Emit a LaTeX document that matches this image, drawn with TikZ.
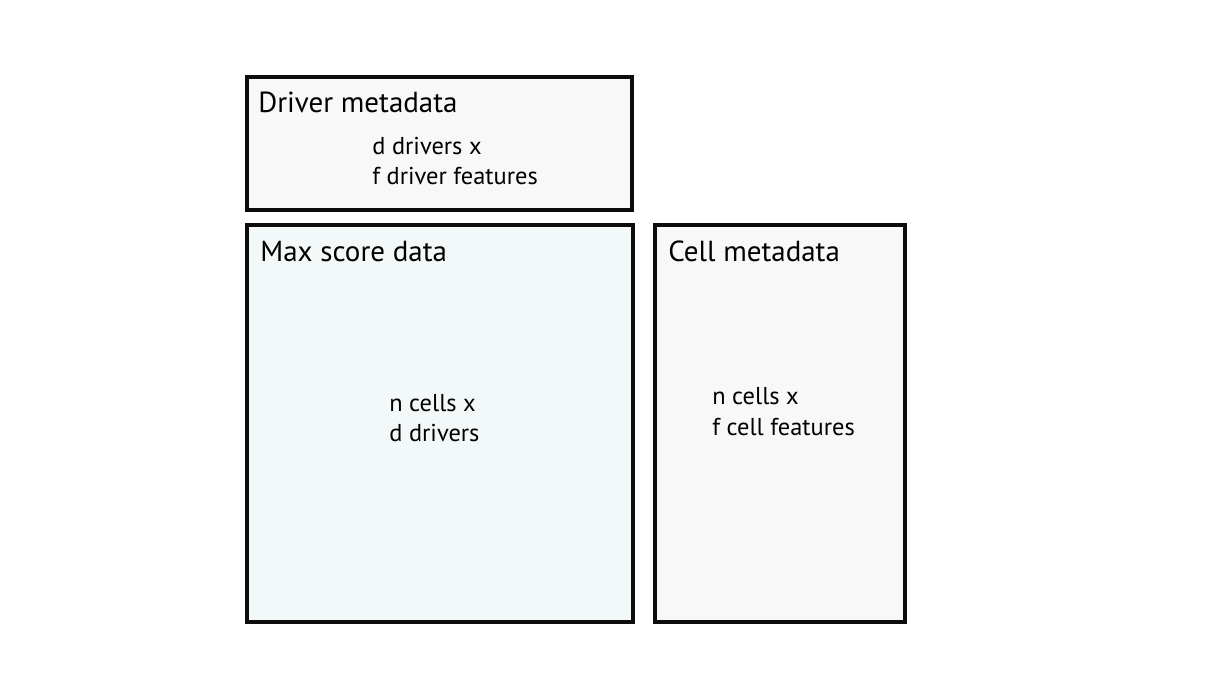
\documentclass[tikz,border=0pt]{standalone}
\usepackage{fontspec}
\setmainfont{PT Sans}
\usetikzlibrary{positioning}
\definecolor{scorefill}{HTML}{F3F9F9}
\definecolor{metafill}{HTML}{F8F8F8}

\begin{document}
\begin{tikzpicture}[x=0.02cm, y=-0.02cm,
    databox/.style={draw=black!95, line width=2.3pt, anchor=north west, inner sep=0pt, outer sep=0pt},
    box title/.style={font=\fontsize{16.5}{19}\selectfont, anchor=base west, inner sep=0pt},
    box text/.style={font=\fontsize{13.9}{16}\selectfont, anchor=base west, inner sep=0pt}]

    \useasboundingbox (0,0) rectangle (1212,674);

    % the three tables
    \node[databox, fill=metafill, minimum width=7.7cm, minimum height=2.66cm] (driver) at (247,77) {};
    \node[databox, fill=scorefill, minimum width=7.72cm, minimum height=7.94cm] (score) at (247,225) {};
    \node[databox, fill=metafill, minimum width=5cm, minimum height=7.94cm] (cell) at (655,225) {};

    % titles
    \node[box title] (driver-title) at (258,112) {Driver metadata};
    \node[box title] (score-title) at (260,261) {Max score data};
    \node[box title] (cell-title) at (668,261) {Cell metadata};

    % dimensions
    \node[box text] (driver-dim) at (372,154) {d drivers x};
    \node[box text] (driver-feat) at (372,184) {f driver features};

    \node[box text] (score-dim) at (389,411) {n cells x};
    \node[box text] (score-drv) at (389,441) {d drivers};

    \node[box text] (cell-dim) at (712,404) {n cells x};
    \node[box text] (cell-feat) at (712,435) {f cell features};
\end{tikzpicture}
\end{document}
